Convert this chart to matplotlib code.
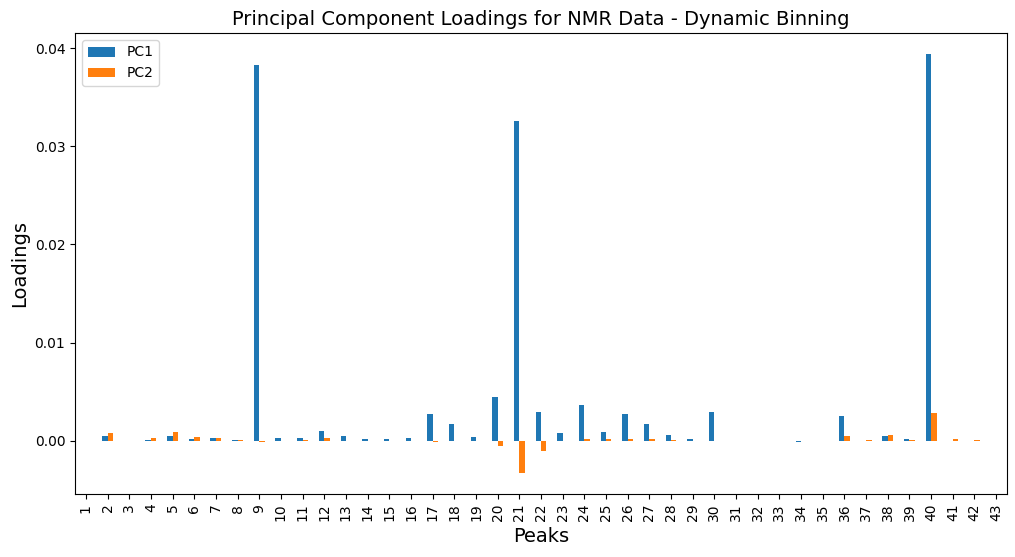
import matplotlib
matplotlib.use("Agg")
import matplotlib.pyplot as plt
import pandas as pd

# peak numbers 1..43
peaks = [str(i) for i in range(1, 44)]

pc1 = [0.0000, 0.0005, 0.0000, 0.0001, 0.0005, 0.0002, 0.0003, 0.0001, 0.0383, 0.0003,
       0.0003, 0.0010, 0.0005, 0.0002, 0.0002, 0.0003, 0.0027, 0.0017, 0.0004, 0.0044,
       0.0326, 0.0029, 0.0008, 0.0036, 0.0009, 0.0027, 0.0017, 0.0006, 0.0002, 0.0029,
       0.0000, 0.0000, 0.0000, -0.0001, 0.0000, 0.0025, 0.0000, 0.0005, 0.0002, 0.0394,
       0.0000, 0.0000, 0.0000]
pc2 = [0.0000, 0.0008, 0.0000, 0.0003, 0.0009, 0.0004, 0.0003, 0.0001, -0.0001, 0.0000,
       0.0001, 0.0003, 0.0000, 0.0000, 0.0000, 0.0000, -0.0001, 0.0000, 0.0000, -0.0005,
       -0.0033, -0.0011, 0.0000, 0.0002, 0.0002, 0.0002, 0.0002, 0.0001, 0.0000, 0.0000,
       0.0000, 0.0000, 0.0000, 0.0000, 0.0000, 0.0005, 0.0001, 0.0006, 0.0001, 0.0028,
       0.0002, 0.0001, 0.0000]

df = pd.DataFrame({"PC1": pc1, "PC2": pc2}, index=peaks)

fig = plt.figure(figsize=(10.15, 5.57), dpi=100)
ax = fig.add_axes([75 / 1015, 1 - 494 / 557, 932 / 1015, 461 / 557])
df.plot(kind="bar", ax=ax)

ax.set_title("Principal Component Loadings for NMR Data - Dynamic Binning", fontsize=14)
ax.set_xlabel("Peaks", fontsize=14)
ax.set_ylabel("Loadings", fontsize=14)
ax.legend(loc="upper left")

fig.savefig("out.png", dpi=100)
